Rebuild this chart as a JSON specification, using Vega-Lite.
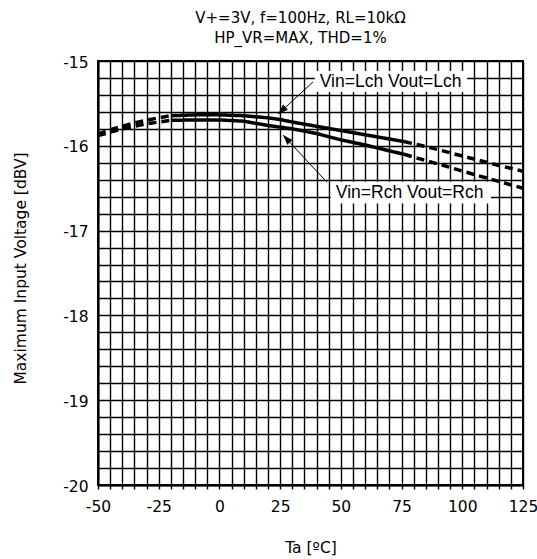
{
  "$schema": "https://vega.github.io/schema/vega-lite/v6.json",
  "width": 425,
  "height": 424,
  "autosize": "none",
  "padding": {"left": 98, "top": 61, "right": 14, "bottom": 74},
  "background": "white",
  "config": {
    "font": "DejaVu Sans",
    "view": {"stroke": "black", "strokeWidth": 2},
    "axis": {
      "labelFont": "DejaVu Sans",
      "titleFont": "DejaVu Sans",
      "labelFontSize": 15.5,
      "titleFontSize": 15.5,
      "titleFontWeight": "normal",
      "labelColor": "black",
      "titleColor": "black",
      "grid": true,
      "gridColor": "black",
      "gridOpacity": 1,
      "gridWidth": 1.4,
      "domainColor": "black",
      "domainWidth": 2,
      "tickColor": "black",
      "tickWidth": 1.4
    }
  },
  "title": {
    "text": ["V+=3V, f=100Hz, RL=10kΩ", "HP_VR=MAX, THD=1%"],
    "font": "DejaVu Sans",
    "fontSize": 15,
    "fontWeight": "normal",
    "color": "black",
    "lineHeight": 20,
    "offset": 9,
    "dx": -10
  },
  "datasets": {
    "curves": [
      {"series": "Lch", "part": "L1", "style": "dashed", "T": -50, "V": -15.86},
      {"series": "Lch", "part": "L1", "style": "dashed", "T": -45, "V": -15.81},
      {"series": "Lch", "part": "L1", "style": "dashed", "T": -40, "V": -15.77},
      {"series": "Lch", "part": "L1", "style": "dashed", "T": -35, "V": -15.73},
      {"series": "Lch", "part": "L1", "style": "dashed", "T": -30, "V": -15.70},
      {"series": "Lch", "part": "L1", "style": "dashed", "T": -25, "V": -15.67},
      {"series": "Lch", "part": "L1", "style": "dashed", "T": -20, "V": -15.645},
      {"series": "Lch", "part": "L2", "style": "solid", "T": -20, "V": -15.645},
      {"series": "Lch", "part": "L2", "style": "solid", "T": -10, "V": -15.635},
      {"series": "Lch", "part": "L2", "style": "solid", "T": 0, "V": -15.635},
      {"series": "Lch", "part": "L2", "style": "solid", "T": 10, "V": -15.645},
      {"series": "Lch", "part": "L2", "style": "solid", "T": 20, "V": -15.67},
      {"series": "Lch", "part": "L2", "style": "solid", "T": 25, "V": -15.69},
      {"series": "Lch", "part": "L2", "style": "solid", "T": 30, "V": -15.72},
      {"series": "Lch", "part": "L2", "style": "solid", "T": 40, "V": -15.77},
      {"series": "Lch", "part": "L2", "style": "solid", "T": 50, "V": -15.82},
      {"series": "Lch", "part": "L2", "style": "solid", "T": 60, "V": -15.87},
      {"series": "Lch", "part": "L2", "style": "solid", "T": 70, "V": -15.92},
      {"series": "Lch", "part": "L2", "style": "solid", "T": 76, "V": -15.95},
      {"series": "Lch", "part": "L3", "style": "dashed", "T": 76, "V": -15.95},
      {"series": "Lch", "part": "L3", "style": "dashed", "T": 88, "V": -16.03},
      {"series": "Lch", "part": "L3", "style": "dashed", "T": 100, "V": -16.12},
      {"series": "Lch", "part": "L3", "style": "dashed", "T": 112, "V": -16.21},
      {"series": "Lch", "part": "L3", "style": "dashed", "T": 125, "V": -16.30},
      {"series": "Rch", "part": "R1", "style": "dashed", "T": -50, "V": -15.88},
      {"series": "Rch", "part": "R1", "style": "dashed", "T": -45, "V": -15.84},
      {"series": "Rch", "part": "R1", "style": "dashed", "T": -40, "V": -15.80},
      {"series": "Rch", "part": "R1", "style": "dashed", "T": -35, "V": -15.77},
      {"series": "Rch", "part": "R1", "style": "dashed", "T": -30, "V": -15.74},
      {"series": "Rch", "part": "R1", "style": "dashed", "T": -25, "V": -15.72},
      {"series": "Rch", "part": "R1", "style": "dashed", "T": -20, "V": -15.70},
      {"series": "Rch", "part": "R2", "style": "solid", "T": -20, "V": -15.70},
      {"series": "Rch", "part": "R2", "style": "solid", "T": -10, "V": -15.695},
      {"series": "Rch", "part": "R2", "style": "solid", "T": 0, "V": -15.695},
      {"series": "Rch", "part": "R2", "style": "solid", "T": 10, "V": -15.71},
      {"series": "Rch", "part": "R2", "style": "solid", "T": 20, "V": -15.76},
      {"series": "Rch", "part": "R2", "style": "solid", "T": 30, "V": -15.80},
      {"series": "Rch", "part": "R2", "style": "solid", "T": 40, "V": -15.855},
      {"series": "Rch", "part": "R2", "style": "solid", "T": 50, "V": -15.93},
      {"series": "Rch", "part": "R2", "style": "solid", "T": 60, "V": -15.99},
      {"series": "Rch", "part": "R2", "style": "solid", "T": 70, "V": -16.06},
      {"series": "Rch", "part": "R2", "style": "solid", "T": 76, "V": -16.10},
      {"series": "Rch", "part": "R3", "style": "dashed", "T": 76, "V": -16.10},
      {"series": "Rch", "part": "R3", "style": "dashed", "T": 92, "V": -16.23},
      {"series": "Rch", "part": "R3", "style": "dashed", "T": 105, "V": -16.34},
      {"series": "Rch", "part": "R3", "style": "dashed", "T": 115, "V": -16.42},
      {"series": "Rch", "part": "R3", "style": "dashed", "T": 125, "V": -16.50}
    ],
    "boxes": [
      {"name": "Lch", "T1": 39.3, "T2": 102, "V1": -15.118, "V2": -15.366},
      {"name": "Rch", "T1": 45.8, "T2": 111.8, "V1": -16.425, "V2": -16.68}
    ],
    "labels": [
      {"name": "Lch", "text": "Vin=Lch Vout=Lch", "T": 70.5, "V": -15.244},
      {"name": "Rch", "text": "Vin=Rch Vout=Rch", "T": 78.3, "V": -16.555}
    ],
    "arrows": [
      {"name": "Lch", "T1": 38.5, "V1": -15.248, "T2": 24.2, "V2": -15.625},
      {"name": "Rch", "T1": 44.3, "V1": -16.43, "T2": 26.2, "V2": -15.874}
    ]
  },
  "layer": [
    {
      "data": {"name": "curves"},
      "mark": {"type": "line", "strokeWidth": 3.5, "color": "black", "strokeCap": "butt"},
      "encoding": {
        "x": {
          "field": "T", "type": "quantitative",
          "scale": {"domain": [-50, 125], "nice": false, "zero": false},
          "axis": {
            "title": "Ta [ºC]",
            "values": [-50,-45,-40,-35,-30,-25,-20,-15,-10,-5,0,5,10,15,20,25,30,35,40,45,50,55,60,65,70,75,80,85,90,95,100,105,110,115,120,125],
            "tickCount": 100,
            "labelExpr": "datum.value % 25 === 0 ? '' + datum.value : ''",
            "tickSize": 4,
            "labelPadding": 10,
            "labelFlush": false,
            "labelOverlap": false,
            "titleY": 62,
            "titleBaseline": "middle"
          }
        },
        "y": {
          "field": "V", "type": "quantitative",
          "scale": {"domain": [-20, -15], "nice": false, "zero": false},
          "axis": {
            "title": "Maximum Input Voltage [dBV]",
            "values": [-20,-19.8,-19.6,-19.4,-19.2,-19,-18.8,-18.6,-18.4,-18.2,-18,-17.8,-17.6,-17.4,-17.2,-17,-16.8,-16.6,-16.4,-16.2,-16,-15.8,-15.6,-15.4,-15.2,-15],
            "tickCount": 100,
            "labelExpr": "abs(datum.value - round(datum.value)) < 0.001 ? '' + round(datum.value) : ''",
            "ticks": false,
            "labelPadding": 10,
            "labelOverlap": false,
            "labelFlush": false,
            "labelOffset": 1,
            "titleX": -78,
            "titleY": 207,
            "titleAngle": -90,
            "titleAlign": "center",
            "titleBaseline": "middle"
          }
        },
        "detail": {"field": "part"},
        "strokeDash": {
          "field": "style", "type": "nominal",
          "scale": {"domain": ["solid", "dashed"], "range": [[1, 0], [8, 5]]},
          "legend": null
        }
      }
    },
    {
      "data": {"name": "boxes"},
      "mark": {"type": "rect", "fill": "white", "stroke": null},
      "encoding": {
        "x": {"field": "T1", "type": "quantitative"},
        "x2": {"field": "T2"},
        "y": {"field": "V1", "type": "quantitative"},
        "y2": {"field": "V2"}
      }
    },
    {
      "data": {"name": "labels"},
      "mark": {"type": "text", "font": "Liberation Sans", "fontSize": 17.5, "color": "black", "align": "center", "baseline": "middle"},
      "encoding": {
        "x": {"field": "T", "type": "quantitative"},
        "y": {"field": "V", "type": "quantitative"},
        "text": {"field": "text"}
      }
    },
    {
      "data": {"name": "arrows"},
      "mark": {"type": "rule", "color": "black", "strokeWidth": 1},
      "encoding": {
        "x": {"field": "T1", "type": "quantitative"},
        "y": {"field": "V1", "type": "quantitative"},
        "x2": {"field": "T2"},
        "y2": {"field": "V2"}
      }
    },
    {
      "data": {"name": "arrows"},
      "transform": [{"filter": "datum.name === 'Lch'"}],
      "mark": {"type": "point", "shape": "M0,0L-0.7,2L0.7,2Z", "filled": true, "color": "black", "opacity": 1, "size": 100, "angle": 226.7},
      "encoding": {
        "x": {"field": "T2", "type": "quantitative"},
        "y": {"field": "V2", "type": "quantitative"}
      }
    },
    {
      "data": {"name": "arrows"},
      "transform": [{"filter": "datum.name === 'Rch'"}],
      "mark": {"type": "point", "shape": "M0,0L-0.7,2L0.7,2Z", "filled": true, "color": "black", "opacity": 1, "size": 100, "angle": 317},
      "encoding": {
        "x": {"field": "T2", "type": "quantitative"},
        "y": {"field": "V2", "type": "quantitative"}
      }
    }
  ]
}
